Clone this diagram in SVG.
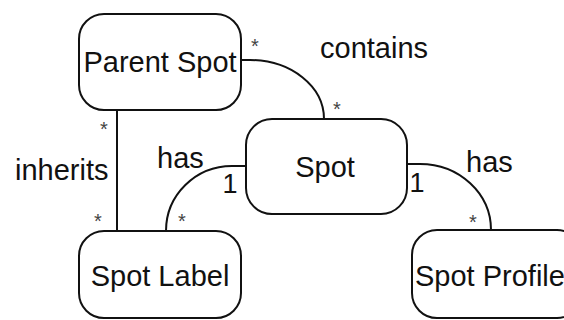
<svg xmlns="http://www.w3.org/2000/svg" width="564" height="320" viewBox="0 0 564 320">
<style>
.box{fill:#fff;stroke:#111;stroke-width:2}
.lbl{font-family:"Liberation Sans",Arial,sans-serif;font-size:29px;fill:#111}
.mult{font-family:"Liberation Sans",Arial,sans-serif;font-size:20px;fill:#444;text-anchor:middle}
.one{font-family:"Liberation Sans",Arial,sans-serif;font-size:27px;fill:#111;text-anchor:middle}
.conn{fill:none;stroke:#111;stroke-width:2}
</style>
<rect width="564" height="320" fill="#fff"/>
<g id="connectors">
<path class="conn" d="M241,60 L250,60 A74 59 0 0 1 324 119"/>
<path class="conn" d="M117,110 L117,231"/>
<path class="conn" d="M246,166 L232,166 A66 65 0 0 0 166 231"/>
<path class="conn" d="M407,164 L420,164 A71 66 0 0 1 491 230"/>
</g>
<g id="parent-spot">
<rect class="box" x="79" y="14" width="162" height="96" rx="25" ry="25"/>
<text class="lbl" x="160" y="72" text-anchor="middle">Parent Spot</text>
</g>
<g id="spot">
<rect class="box" x="246" y="119" width="161" height="95" rx="26" ry="26"/>
<text class="lbl" x="325" y="177" text-anchor="middle">Spot</text>
</g>
<g id="spot-label">
<rect class="box" x="79" y="231" width="162" height="87" rx="25" ry="25"/>
<text class="lbl" x="160" y="286" text-anchor="middle">Spot Label</text>
</g>
<g id="spot-profile">
<rect class="box" x="412" y="230" width="170" height="88" rx="25" ry="25"/>
<text class="lbl" x="415" y="286">Spot Profile</text>
</g>
<g id="labels">
<text class="lbl" x="320" y="58">contains</text>
<text class="lbl" x="15" y="180">inherits</text>
<text class="lbl" x="157" y="168">has</text>
<text class="lbl" x="466" y="172">has</text>
<text class="one" x="230" y="193">1</text>
<text class="one" x="417" y="192">1</text>
<text class="mult" x="255" y="53">*</text>
<text class="mult" x="337" y="116">*</text>
<text class="mult" x="104" y="136">*</text>
<text class="mult" x="98" y="228">*</text>
<text class="mult" x="182" y="228">*</text>
<text class="mult" x="473" y="229">*</text>
</g>
</svg>
